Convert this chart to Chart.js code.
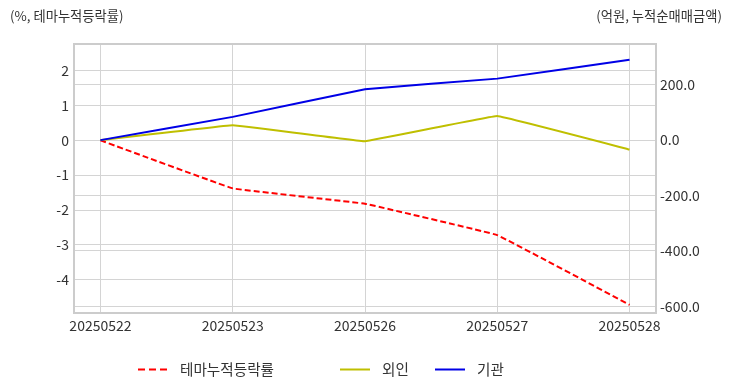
<!DOCTYPE html>
<html>
<head>
<meta charset="utf-8">
<script src="https://cdn.jsdelivr.net/npm/chart.js@4.4.1/dist/chart.umd.min.js"></script>
<style>
html, body { margin: 0; padding: 0; background: #fff; }
#wrap { position: relative; width: 732px; height: 392px; font-family: "Noto Sans CJK KR", sans-serif; color: #333; }
#chart { position: absolute; left: 0; top: 0; }
.axis_tit { position: absolute; top: 6px; font-size: 13.3px; line-height: 20px; white-space: nowrap; }
.lg_item { position: absolute; top: 359px; height: 20px; line-height: 20px; font-size: 14.6px; white-space: nowrap; }
.lg_item svg { position: absolute; left: 0; top: 9px; }
.lg_item span { position: absolute; top: 0; }
</style>
</head>
<body>
<div id="wrap">
	<canvas id="chart" width="732" height="392"></canvas>
	<div class="axis_tit" style="left:10px;">(%, 테마누적등락률)</div>
	<div class="axis_tit" style="right:10px;">(억원, 누적순매매금액)</div>
	<div id="legend"></div>
</div>
<script>
// data
var dates = ["20250522", "20250523", "20250526", "20250527", "20250528"];
var themeRate = [0, -1.38, -1.82, -2.72, -4.72];   // 테마누적등락률 (%)
var foreign = [0, 54, -4, 87, -34];                // 외인 (억원)
var institution = [0, 84, 184, 222, 290];         // 기관 (억원)
var leftTicks = [-4, -3, -2, -1, 0, 1, 2];
var rightTicks = [-600, -400, -200, 0, 200];

var gridColor = "#d4d4d4";
var borderColor = "#cccccc";
var tickFont = { family: "Noto Sans CJK KR", size: 14 };

function toPoints(arr) {
	return arr.map(function(v, i) { return { x: i, y: v }; });
}

// top edge of the plot box
var boxTop = {
	id: "boxTop",
	afterDraw: function(chart) {
		var c = chart.ctx, a = chart.chartArea;
		c.save();
		c.strokeStyle = borderColor;
		c.lineWidth = 2;
		c.beginPath();
		c.moveTo(a.left - 1, a.top);
		c.lineTo(a.right + 1, a.top);
		c.stroke();
		c.restore();
	}
};

var chart = new Chart(document.getElementById("chart"), {
	type: "line",
	data: {
		datasets: [{
			label: "테마누적등락률",
			data: toPoints(themeRate),
			yAxisID: "y",
			borderColor: "#ff0000",
			borderDash: [6, 3],
			order: 3
		}, {
			label: "외인",
			data: toPoints(foreign),
			yAxisID: "y1",
			borderColor: "#bfbf00",
			order: 2
		}, {
			label: "기관",
			data: toPoints(institution),
			yAxisID: "y1",
			borderColor: "#0000e6",
			order: 1
		}]
	},
	options: {
		responsive: false,
		animation: false,
		devicePixelRatio: 1,
		layout: { padding: { top: 44, left: 0, right: 0, bottom: 0 } },
		elements: {
			line: { borderWidth: 2, tension: 0.04, fill: false },
			point: { radius: 0 }
		},
		plugins: {
			legend: { display: false },
			tooltip: { enabled: false }
		},
		scales: {
			x: {
				type: "linear",
				min: -0.2,
				max: 4.2,
				afterBuildTicks: function(s) {
					s.ticks = dates.map(function(d, i) { return { value: i }; });
				},
				afterFit: function(s) { s.height = 79; },
				ticks: {
					padding: 4,
					color: "#333",
					font: tickFont,
					maxRotation: 0,
					callback: function(v) { return dates[v]; }
				},
				grid: { color: gridColor, drawTicks: false },
				border: { color: borderColor, width: 2 }
			},
			y: {
				position: "left",
				min: -4.955,
				max: 2.763,
				afterBuildTicks: function(s) {
					s.ticks = leftTicks.map(function(v) { return { value: v }; });
				},
				afterFit: function(s) { s.width = 74; },
				ticks: { padding: 5, color: "#333", font: tickFont },
				grid: { color: gridColor, drawTicks: false },
				border: { color: borderColor, width: 2 }
			},
			y1: {
				position: "right",
				min: -624,
				max: 347,
				afterBuildTicks: function(s) {
					s.ticks = rightTicks.map(function(v) { return { value: v }; });
				},
				afterFit: function(s) { s.width = 76; },
				ticks: {
					padding: 4,
					color: "#333",
					font: tickFont,
					callback: function(v) { return v.toFixed(1); }
				},
				grid: { color: gridColor, drawTicks: false },
				border: { color: borderColor, width: 2 }
			}
		}
	},
	plugins: [boxTop]
});

// legend (html, built from the datasets)
var lgLeft = [138, 340, 435];
var html = "";
chart.data.datasets.forEach(function(ds, i) {
	var dash = ds.borderDash ? ' stroke-dasharray="7,4"' : "";
	html += '<div class="lg_item" style="left:' + lgLeft[i] + 'px;">'
		+ '<svg width="30" height="3"><line x1="0" y1="1.5" x2="30" y2="1.5" stroke="' + ds.borderColor + '" stroke-width="2"' + dash + '/></svg>'
		+ '<span style="left:42px;">' + ds.label + '</span></div>';
});
document.getElementById("legend").innerHTML = html;
</script>
</body>
</html>
